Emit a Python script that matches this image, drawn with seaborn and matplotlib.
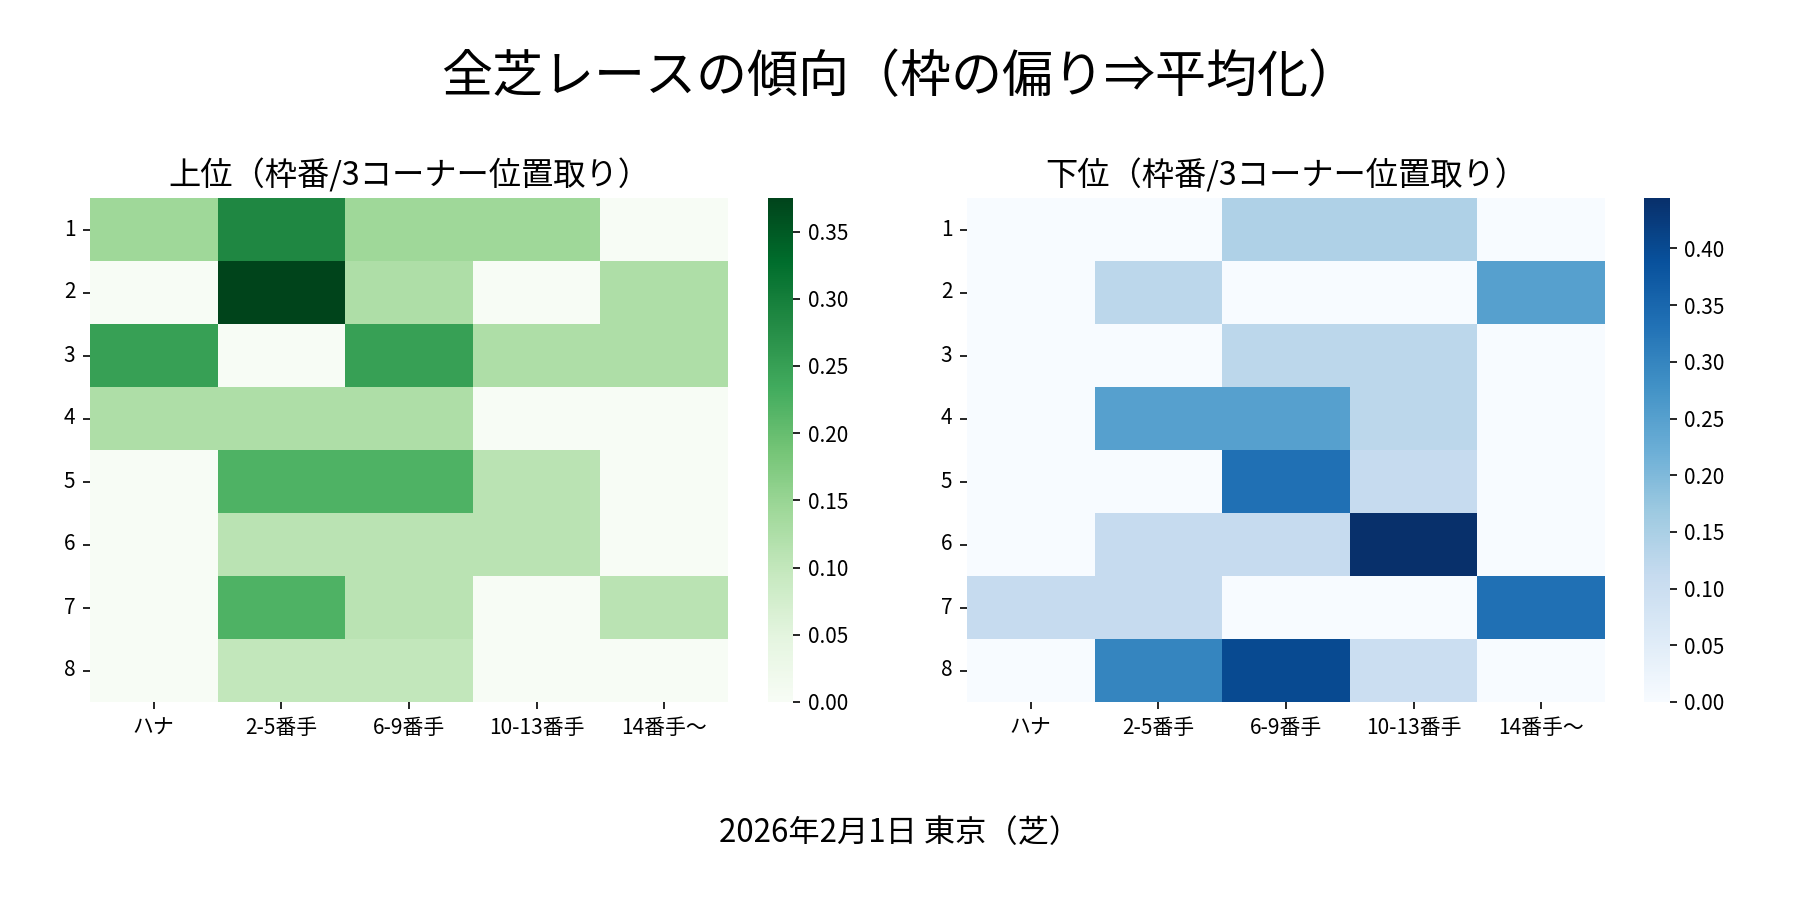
import numpy as np
import pandas as pd
import matplotlib
matplotlib.use("Agg")
import matplotlib.pyplot as plt
import matplotlib.ticker as mticker
import seaborn as sns

plt.rcParams['font.family'] = ['Noto Sans CJK JP', 'DejaVu Sans']

# 枠番 / 3コーナー位置取り
frames = [1, 2, 3, 4, 5, 6, 7, 8]
positions = ['ハナ', '2-5番手', '6-9番手', '10-13番手', '14番手〜']

# 枠ごとの出走頭数
frame_totals = [7, 8, 8, 8, 9, 9, 9, 10]

# 上位の頭数
top_counts = [
    [1, 2, 1, 1, 0],
    [0, 3, 1, 0, 1],
    [2, 0, 2, 1, 1],
    [1, 1, 1, 0, 0],
    [0, 2, 2, 1, 0],
    [0, 1, 1, 1, 0],
    [0, 2, 1, 0, 1],
    [0, 1, 1, 0, 0],
]

# 下位の頭数
bottom_counts = [
    [0, 0, 1, 1, 0],
    [0, 1, 0, 0, 2],
    [0, 0, 1, 1, 0],
    [0, 2, 2, 1, 0],
    [0, 0, 3, 1, 0],
    [0, 1, 1, 4, 0],
    [1, 1, 0, 0, 3],
    [0, 3, 4, 1, 0],
]

totals = np.array(frame_totals)[:, None]
top_df = pd.DataFrame(np.array(top_counts) / totals, index=frames, columns=positions)
bottom_df = pd.DataFrame(np.array(bottom_counts) / totals, index=frames, columns=positions)

fig = plt.figure(figsize=(12, 6), dpi=150)

ax1 = fig.add_axes([0.05, 0.22, 0.3544, 0.56])
cax1 = fig.add_axes([0.4267, 0.22, 0.0139, 0.56])
ax2 = fig.add_axes([0.5372, 0.22, 0.3544, 0.56])
cax2 = fig.add_axes([0.9133, 0.22, 0.0144, 0.56])

sns.heatmap(top_df, cmap='Greens', ax=ax1, cbar_ax=cax1)
ax1.set_title('上位（枠番/3コーナー位置取り）', fontsize=15.5)

sns.heatmap(bottom_df, cmap='Blues', ax=ax2, cbar_ax=cax2)
ax2.set_title('下位（枠番/3コーナー位置取り）', fontsize=15.5)

for ax in (ax1, ax2):
    ax.set_xlabel('')
    ax.set_ylabel('')
    ax.tick_params(axis='both', labelsize=10)
    ax.set_yticklabels(ax.get_yticklabels(), rotation=0)
    ax.set_xticklabels(ax.get_xticklabels(), rotation=0)

for cax in (cax1, cax2):
    cax.tick_params(labelsize=10)
    cax.yaxis.set_major_formatter(mticker.FormatStrFormatter('%.2f'))

fig.suptitle('全芝レースの傾向（枠の偏り⇒平均化）', fontsize=24.5, y=0.914, va='center')
fig.text(0.5, 0.074, '2026年2月1日 東京（芝）', ha='center', va='center', fontsize=15)

plt.savefig('out.png', dpi=150)
plt.close()
